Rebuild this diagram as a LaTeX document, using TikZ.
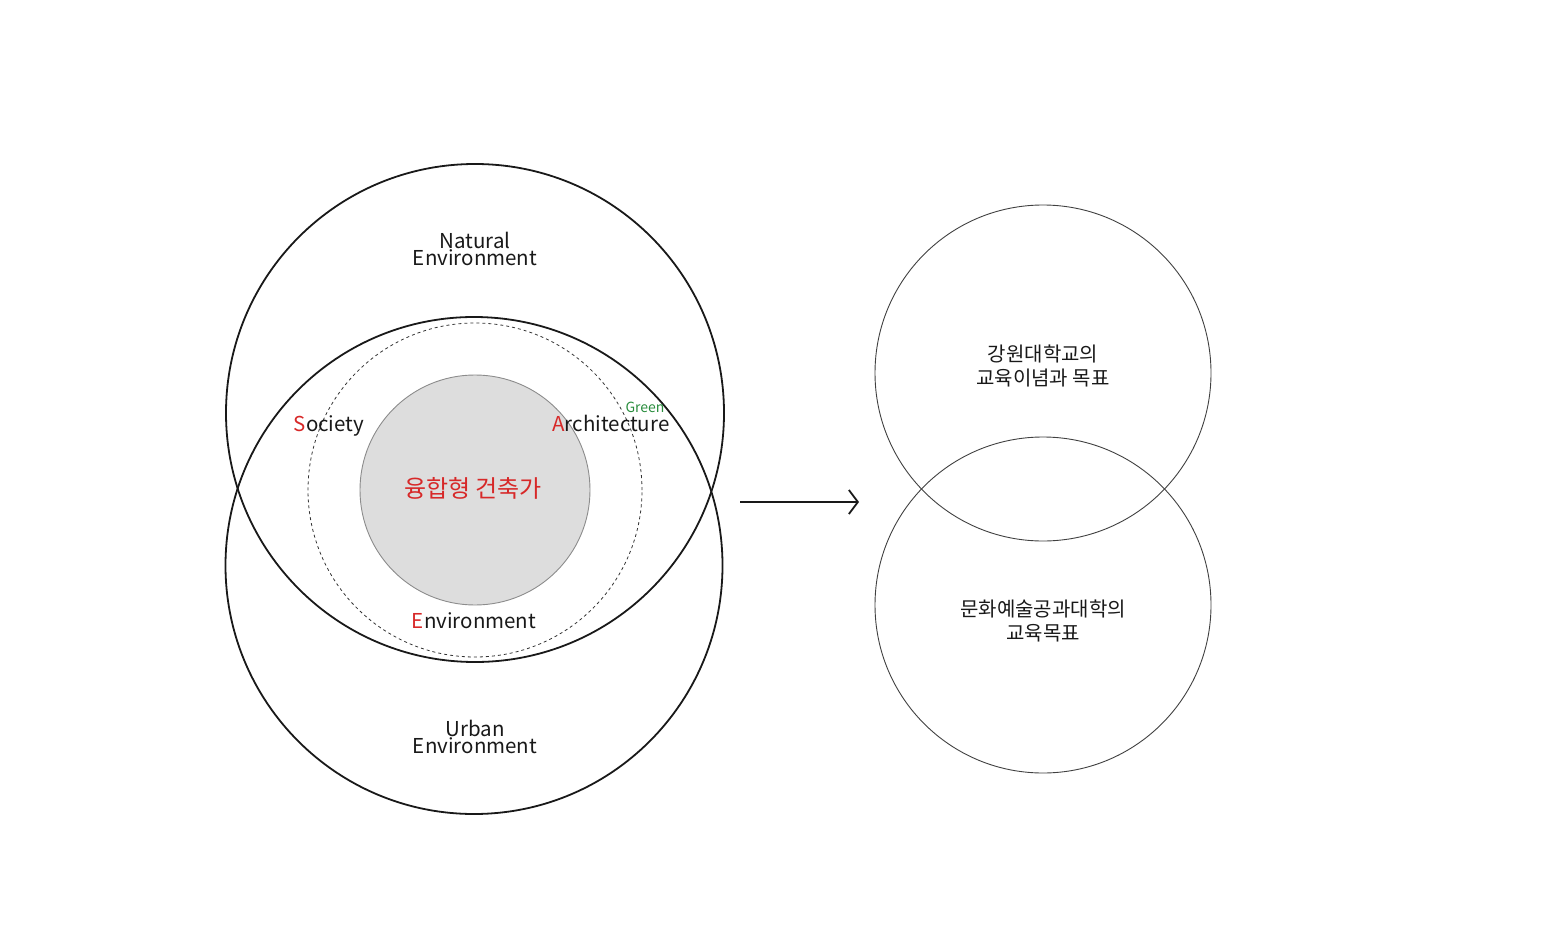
\documentclass[tikz,border=0pt]{standalone}
\usepackage{fontspec}
\setmainfont{Noto Sans CJK KR}
\usetikzlibrary{arrows.meta}
\definecolor{keyred}{RGB}{215,40,40}
\definecolor{keygreen}{RGB}{40,140,60}
\definecolor{corefill}{RGB}{221,221,221}
\tikzset{
  bigring/.style={draw=black!90, line width=1.8pt},
  goalring/.style={draw=black!75, line width=0.9pt},
  lbl/.style={font=\fontsize{20.5}{17}\selectfont, align=center, text=black!90, inner sep=1pt}
}
\newcommand{\kr}[1]{{\color{keyred}#1}}
\begin{document}
\begin{tikzpicture}[x=1pt,y=-1pt]
      \useasboundingbox (0,0) rectangle (1549,944);

      % left diagram
      \draw[bigring] (475,413) circle [radius=249pt];
      \draw[bigring] (474,565.5) circle [radius=248.5pt];
      \draw[dashed, line width=0.8pt, black!80] (475,490) circle [radius=167pt];
      \draw[fill=corefill, draw=black!45, line width=0.9pt] (475,490) circle [radius=115pt];

      \node[lbl] (natural) at (475,249) {Natural\\Environment};
      \node[lbl] (urban) at (475,737) {Urban\\Environment};
      \node[lbl, anchor=base] (society) at (329,431) {\kr{S}ociety};
      \node[lbl, anchor=base] (arch) at (611,431) {\kr{A}rchitecture};
      \node[font=\fontsize{14}{14}\selectfont, text=keygreen, anchor=base, inner sep=1pt] (green) at (645,412) {Green};
      \node[lbl, anchor=base] (env) at (474,628) {\kr{E}nvironment};
      \node[font=\fontsize{24}{24}\selectfont, text=keyred] (core) at (473,488) {융합형 건축가};

      % arrow
      \coordinate (from) at (740,502);
      \coordinate (to) at (859,502);
      \draw[-{Straight Barb[length=9pt, width=24pt, line width=1.8pt]}, line width=1.8pt, black!90] (from) -- (to);

      % right diagram
      \node[goalring, circle, minimum size=336pt, inner sep=0pt] (kangwon) at (1043,373) {};
      \node[goalring, circle, minimum size=336pt, inner sep=0pt] (college) at (1043,605) {};
      \node[lbl, font=\fontsize{20}{24}\selectfont] (kangwontext) at (1043,366) {강원대학교의\\교육이념과 목표};
      \node[lbl, font=\fontsize{20}{24}\selectfont] (collegetext) at (1043,621) {문화예술공과대학의\\교육목표};
\end{tikzpicture}
\end{document}
